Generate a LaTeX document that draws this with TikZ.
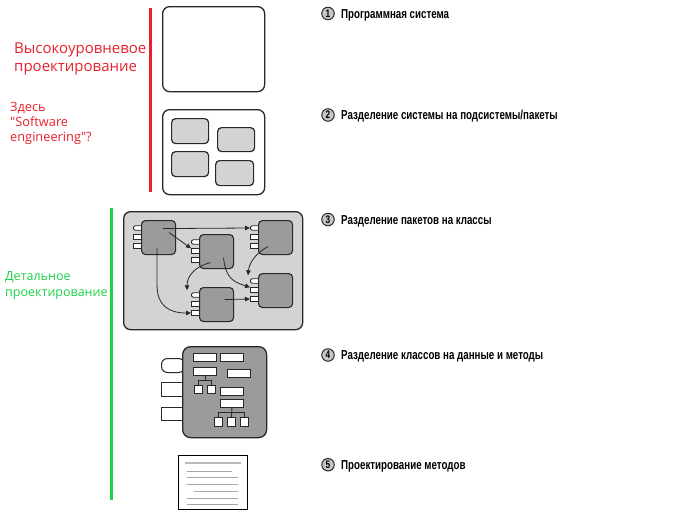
\documentclass[tikz,border=0pt]{standalone}
\usepackage{fontspec}
\setmainfont[Ligatures=TeXOff]{Open Sans}
\newfontfamily\labfont[FakeStretch=0.75]{Liberation Sans}
\usetikzlibrary{arrows.meta,calc}
\definecolor{hlred}{RGB}{232,32,44}
\definecolor{hlgreen}{RGB}{30,210,70}
\definecolor{boxline}{RGB}{40,40,40}
\definecolor{pkgfill}{RGB}{211,211,211}
\definecolor{clsfill}{RGB}{155,155,155}
\newcommand{\myports}[3]{%
  \node[port, rounded corners=2pt, anchor=west] (#1p1) at (#2-8,#3+8) {};
  \node[port, anchor=west] (#1p2) at (#2-8,#3+17) {};
  \node[port, anchor=west] (#1p3) at (#2-8,#3+26) {};
}
\begin{document}
\begin{tikzpicture}[x=1pt,y=-1pt,
  frame/.style={draw=boxline, line width=1.3pt, rounded corners=7pt, inner sep=0pt, anchor=north west},
  subbox/.style={draw=boxline, line width=1.2pt, fill=pkgfill, rounded corners=4pt, inner sep=0pt, anchor=north west},
  cls/.style={draw=boxline, line width=1.1pt, fill=clsfill, rounded corners=4pt, inner sep=0pt, minimum size=34pt, anchor=north west},
  port/.style={draw=boxline, line width=0.9pt, fill=white, inner sep=0pt, minimum width=10pt, minimum height=4.5pt},
  bigport/.style={draw=boxline, line width=1pt, fill=white, inner sep=0pt, minimum width=23pt, anchor=north west},
  attr/.style={draw=boxline, line width=0.9pt, fill=white, inner sep=0pt, anchor=north west},
  conn/.style={draw=boxline, line width=0.8pt, -{Triangle[length=5pt,width=4.5pt]}},
  tree/.style={draw=boxline, line width=0.9pt},
  numc/.style={circle, draw=boxline, fill=gray!45, line width=1pt, minimum size=12.5pt, inner sep=0pt, font=\labfont\bfseries\fontsize{11}{11}\selectfont},
  lab/.style={anchor=base west, inner sep=0pt, font=\labfont\bfseries\fontsize{13}{13}\selectfont},
  redbig/.style={anchor=base west, inner sep=0pt, text=hlred, font=\fontsize{15}{15}\selectfont},
  redsmall/.style={anchor=base west, inner sep=0pt, text=hlred, font=\fontsize{12.8}{12.8}\selectfont},
  greent/.style={anchor=base west, inner sep=0pt, text=hlgreen, font=\fontsize{12.5}{12.5}\selectfont}
]
\useasboundingbox (0,0) rectangle (684,514);
% vertical bars
\coordinate (rtop) at (150,8); \coordinate (rbot) at (150,192);
\draw[hlred, line width=3pt] (rtop) -- (rbot);
\coordinate (gtop) at (111,208); \coordinate (gbot) at (111,500);
\draw[hlgreen, line width=3pt] (gtop) -- (gbot);
% side texts
\node[redbig] (h1) at (14,53.5) {Высокоуровневое};
\node[redbig] (h2) at (14,71.5) {проектирование};
\node[redsmall] (s1) at (10,111.5) {Здесь};
\node[redsmall] (s2) at (10,126.7) {"Software};
\node[redsmall] (s3) at (10,141.7) {engineering"?};
\node[greent] (g1) at (5,280.7) {Детальное};
\node[greent] (g2) at (5,296.5) {проектирование};
% step 1
\node[frame, fill=white, minimum width=102pt, minimum height=85pt] (sys) at (162,6) {};
% step 2
\node[frame, fill=white, minimum width=102pt, minimum height=85pt] (sub) at (162,109) {};
\node[subbox, minimum width=37pt, minimum height=25pt] (sb1) at (171,118) {};
\node[subbox, minimum width=37pt, minimum height=24pt] (sb2) at (217,127) {};
\node[subbox, minimum width=37pt, minimum height=25pt] (sb3) at (171,151) {};
\node[subbox, minimum width=38pt, minimum height=25pt] (sb4) at (215,160) {};
% step 3
\node[frame, fill=pkgfill, minimum width=179pt, minimum height=118pt] (pkg) at (123,211) {};
\myports{c1}{141}{220}
\node[cls] (c1) at (141,220) {};
\myports{c2}{199}{234}
\node[cls] (c2) at (199,234) {};
\myports{c3}{258}{220}
\node[cls] (c3) at (258,220) {};
\myports{c4}{258}{273}
\node[cls] (c4) at (258,273) {};
\myports{c5}{199}{287}
\node[cls] (c5) at (199,287) {};
\draw[conn] ($(c1.center)+(4.5,-9)$) -- (c3p1.west);
\draw[conn] ($(c1.center)+(10.5,-5)$) -- (c2p2.north west);
\draw[conn] ($(c1.center)+(-1.5,10)$) -- ++(0,38) .. controls +(0,20) and +(-22,0) .. (c5p3.west);
\draw[conn] ($(c2.center)+(-6,11)$) .. controls +(-16,4) and +(0,-14) .. ($(c5p1.north west)+(-4,-2)$);
\draw[conn] ($(c2.center)+(7,6)$) .. controls +(2,22) and +(-15,-5) .. (c4p2.north west);
\draw[conn] ($(c3.center)+(-7.5,9)$) .. controls +(-15,8) and +(1,-10) .. ($(c4p1.north west)+(-2,-3)$);
\draw[conn] ($(c5.center)+(8,-5)$) -- (c4p3.west);
% step 4
\node[bigport, rounded corners=6pt, minimum height=14pt] (mp1) at (161,358) {};
\node[bigport, minimum height=14pt] (mp2) at (161,382) {};
\node[bigport, minimum height=13pt] (mp3) at (161,407) {};
\node[frame, fill=clsfill, rounded corners=8pt, minimum width=84pt, minimum height=91pt] (cl) at (182,346) {};
\node[attr, minimum width=23pt, minimum height=8pt] (r1) at (193,353) {};
\node[attr, minimum width=23pt, minimum height=8pt] (r2) at (220,353) {};
\node[attr, minimum width=23pt, minimum height=8pt] (r3) at (193,367) {};
\node[attr, minimum width=23pt, minimum height=8pt] (r4) at (227,369) {};
\node[attr, minimum size=8pt] (q1) at (194,385) {};
\node[attr, minimum size=8pt] (q2) at (207,385) {};
\node[attr, minimum width=23pt, minimum height=7.5pt] (r5) at (220,387) {};
\node[attr, minimum width=23pt, minimum height=8pt] (r6) at (220,399) {};
\node[attr, minimum width=8pt, minimum height=9pt] (t1) at (214,417) {};
\node[attr, minimum width=8pt, minimum height=9pt] (t2) at (227,417) {};
\node[attr, minimum width=8pt, minimum height=9pt] (t3) at (240,417) {};
\coordinate (j1) at ($(r3.south)+(0,5)$);
\draw[tree] (r3.south) -- (j1);
\draw[tree] (q1.north) |- (j1) -| (q2.north);
\coordinate (j2) at ($(r6.south)+(0,5)$);
\draw[tree] (r6.south) -- (t2.north);
\draw[tree] (t1.north) |- (j2) -| (t3.north);
% step 5
\node[draw=black, line width=1pt, fill=white, inner sep=0pt, minimum width=69pt, minimum height=54pt, anchor=north west] (doc) at (178,455) {};
\draw[gray!55, line width=2.5pt] (185,463) -- (241,463);
\foreach \ya/\xa/\xb in {471/187/232, 477.5/187/238, 484.5/187/238, 491.5/194/238, 498/187/238, 504/187/238}
  \draw[gray!70, line width=0.8pt] (\xa,\ya) -- (\xb,\ya);
% labels
\node[numc] (n1) at (328,13.5) {1};
\node[lab] (l1) at (341,18) {Программная система};
\node[numc] (n2) at (328,115) {2};
\node[lab] (l2) at (341,119.5) {Разделение системы на подсистемы/пакеты};
\node[numc] (n3) at (328,219.5) {3};
\node[lab] (l3) at (341,224) {Разделение пакетов на классы};
\node[numc] (n4) at (328,355) {4};
\node[lab] (l4) at (341,359.5) {Разделение классов на данные и методы};
\node[numc] (n5) at (328,464.7) {5};
\node[lab] (l5) at (341,469.2) {Проектирование методов};
\end{tikzpicture}
\end{document}
